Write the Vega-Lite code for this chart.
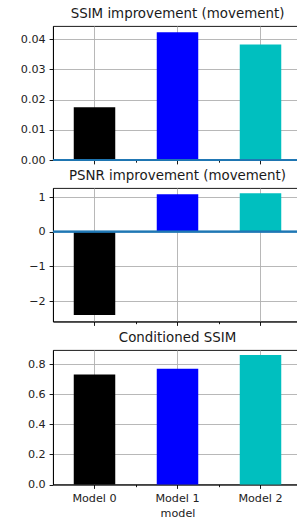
{
  "$schema": "https://vega.github.io/schema/vega-lite/v6.json",
  "padding": {"left": 19, "top": 6, "right": 0, "bottom": 0},
  "background": "white",
  "datasets": {
    "models": [
      {"model": "Model 0", "ssim_improvement": 0.0175, "psnr_improvement": -2.40, "conditioned_ssim": 0.731},
      {"model": "Model 1", "ssim_improvement": 0.0423, "psnr_improvement": 1.08, "conditioned_ssim": 0.769},
      {"model": "Model 2", "ssim_improvement": 0.0383, "psnr_improvement": 1.11, "conditioned_ssim": 0.860}
    ]
  },
  "data": {"name": "models"},
  "bounds": "flush",
  "spacing": 28,
  "vconcat": [
    {
      "title": "SSIM improvement (movement)",
      "width": 249,
      "height": 134,
      "layer": [
        {
          "mark": {"type": "bar", "width": {"band": 0.5}},
          "encoding": {
            "x": {"field": "model", "type": "nominal", "sort": null,
                  "scale": {"paddingInner": 0, "paddingOuter": 0},
                  "axis": {"title": null, "labels": false, "bandPosition": 0.5, "labelAngle": 0}},
            "y": {"field": "ssim_improvement", "type": "quantitative",
                  "scale": {"domain": [0, 0.0444], "nice": false, "zero": false},
                  "axis": {"title": null, "values": [0, 0.01, 0.02, 0.03, 0.04], "tickCount": 20, "format": ".2f"}},
            "color": {"field": "model", "type": "nominal", "legend": null,
                      "scale": {"domain": ["Model 0", "Model 1", "Model 2"], "range": ["#000000", "#0000ff", "#00bfbf"]}}
          }
        },
        {
          "mark": {"type": "tick", "opacity": 0},
          "encoding": {
            "x": {"field": "model", "type": "nominal", "sort": null,
                  "axis": {"title": null, "labels": false, "grid": false, "domain": false, "bandPosition": 0, "tickSize": 2.2, "orient": "bottom",
                           "tickOpacity": {"condition": {"test": "datum.value === 'Model 0'", "value": 0}, "value": 1}}}
          }
        },
        {
          "mark": {"type": "rule", "color": "#1f77b4", "strokeWidth": 1.7},
          "encoding": {"y": {"datum": 0}}
        }
      ],
      "resolve": {"axis": {"x": "independent"}}
    },
    {
      "title": "PSNR improvement (movement)",
      "width": 249,
      "height": 133.5,
      "layer": [
        {
          "mark": {"type": "bar", "width": {"band": 0.5}},
          "encoding": {
            "x": {"field": "model", "type": "nominal", "sort": null,
                  "scale": {"paddingInner": 0, "paddingOuter": 0},
                  "axis": {"title": null, "labels": false, "bandPosition": 0.5, "labelAngle": 0}},
            "y": {"field": "psnr_improvement", "type": "quantitative",
                  "scale": {"domain": [-2.59, 1.26], "nice": false, "zero": false},
                  "axis": {"title": null, "values": [-2, -1, 0, 1], "tickCount": 20, "format": "d"}},
            "color": {"field": "model", "type": "nominal", "legend": null,
                      "scale": {"domain": ["Model 0", "Model 1", "Model 2"], "range": ["#000000", "#0000ff", "#00bfbf"]}}
          }
        },
        {
          "mark": {"type": "tick", "opacity": 0},
          "encoding": {
            "x": {"field": "model", "type": "nominal", "sort": null,
                  "axis": {"title": null, "labels": false, "grid": false, "domain": false, "bandPosition": 0, "tickSize": 2.2, "orient": "bottom",
                           "tickOpacity": {"condition": {"test": "datum.value === 'Model 0'", "value": 0}, "value": 1}}}
          }
        },
        {
          "mark": {"type": "rule", "color": "#1f77b4", "strokeWidth": 1.7},
          "encoding": {"y": {"datum": 0}}
        }
      ],
      "resolve": {"axis": {"x": "independent"}}
    },
    {
      "title": "Conditioned SSIM",
      "width": 249,
      "height": 134.5,
      "layer": [
        {
          "mark": {"type": "bar", "width": {"band": 0.5}},
          "encoding": {
            "x": {"field": "model", "type": "nominal", "sort": null,
                  "scale": {"paddingInner": 0, "paddingOuter": 0},
                  "axis": {"title": "model", "labels": true, "bandPosition": 0.5, "labelAngle": 0, "titlePadding": 4}},
            "y": {"field": "conditioned_ssim", "type": "quantitative",
                  "scale": {"domain": [0, 0.893], "nice": false, "zero": false},
                  "axis": {"title": null, "values": [0, 0.2, 0.4, 0.6, 0.8], "tickCount": 20, "format": ".1f"}},
            "color": {"field": "model", "type": "nominal", "legend": null,
                      "scale": {"domain": ["Model 0", "Model 1", "Model 2"], "range": ["#000000", "#0000ff", "#00bfbf"]}}
          }
        },
        {
          "mark": {"type": "tick", "opacity": 0},
          "encoding": {
            "x": {"field": "model", "type": "nominal", "sort": null,
                  "axis": {"title": null, "labels": false, "grid": false, "domain": false, "bandPosition": 0, "tickSize": 2.2, "orient": "bottom",
                           "tickOpacity": {"condition": {"test": "datum.value === 'Model 0'", "value": 0}, "value": 1}}}
          }
        }
      ],
      "resolve": {"axis": {"x": "independent"}}
    }
  ],
  "config": {
    "font": "DejaVu Sans",
    "view": {"stroke": "#000000", "strokeWidth": 0.9},
    "title": {"fontSize": 13.4, "fontWeight": "normal", "color": "#1a1a1a", "offset": 6, "anchor": "middle"},
    "axis": {
      "labelFontSize": 11.2,
      "labelColor": "#222222",
      "titleFontSize": 11.2,
      "titleFontWeight": "normal",
      "titleColor": "#222222",
      "tickSize": 3.9,
      "tickWidth": 0.9,
      "tickColor": "#000000",
      "labelPadding": 3.9,
      "labelOverlap": false,
      "domainColor": "#000000",
      "domainWidth": 0.9,
      "grid": true,
      "gridColor": "#b0b0b0",
      "gridWidth": 0.9,
      "zindex": 1
    },
    "axisY": {
      "gridOpacity": {"condition": {"test": "datum.value === 0", "value": 0}, "value": 1}
    }
  }
}
